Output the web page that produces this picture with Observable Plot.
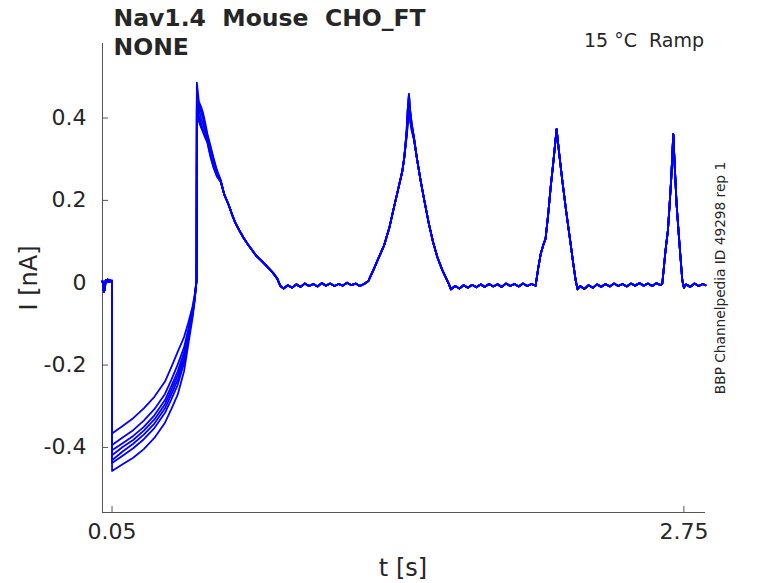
<!DOCTYPE html>
<html><head><meta charset="utf-8">
<script src="https://cdn.jsdelivr.net/npm/d3@7"></script>
<script src="https://cdn.jsdelivr.net/npm/@observablehq/plot@0.6"></script>
<style>
body{margin:0;background:#fff;}
svg{display:block;font-family:"DejaVu Sans",sans-serif;}
</style>
</head><body><div id="chart"></div>
<script>
// ---- axes / ticks ----
const xDomain = [0.005, 2.852];
const yDomain = [-0.558, 0.581];
const xTicks = [0.05, 2.75];
const yTicks = [-0.4, -0.2, 0, 0.2, 0.4];

// ---- holding segment before the ramp protocol ----
const preTime    = [0.005, 0.008, 0.012, 0.016, 0.020, 0.025, 0.030, 0.035, 0.040, 0.045, 0.0495];
const preCurrent = [0.004, -0.006, -0.022, -0.015, 0.006, 0.003, 0.008, 0.002, 0.007, 0.003, 0.005];

// ---- first (slow) ramp, one array per sweep ----
const rampTime = [0.0501, 0.10, 0.15, 0.20, 0.25, 0.30, 0.33, 0.36, 0.39, 0.41, 0.43, 0.44, 0.449];
const sweep1 = [-0.366, -0.348, -0.329, -0.305, -0.277, -0.240, -0.205, -0.168, -0.132, -0.097, -0.058, -0.030, 0.006];
const sweep2 = [-0.394, -0.376, -0.358, -0.335, -0.307, -0.270, -0.236, -0.199, -0.157, -0.113, -0.066, -0.034, 0.006];
const sweep3 = [-0.407, -0.390, -0.372, -0.350, -0.322, -0.285, -0.251, -0.215, -0.169, -0.121, -0.070, -0.037, 0.005];
const sweep4 = [-0.419, -0.399, -0.382, -0.359, -0.332, -0.295, -0.261, -0.225, -0.178, -0.126, -0.073, -0.038, 0.005];
const sweep5 = [-0.431, -0.410, -0.391, -0.369, -0.342, -0.305, -0.271, -0.236, -0.186, -0.131, -0.076, -0.040, 0.005];
const sweep6 = [-0.438, -0.420, -0.402, -0.380, -0.353, -0.316, -0.283, -0.248, -0.195, -0.137, -0.079, -0.041, 0.004];
const sweep7 = [-0.457, -0.441, -0.425, -0.404, -0.377, -0.340, -0.307, -0.272, -0.215, -0.150, -0.085, -0.045, 0.004];

// ---- first peak, one array per sweep ----
const peak1Time = [0.4505, 0.46, 0.47, 0.48, 0.49, 0.50, 0.515, 0.53, 0.545, 0.563];
const peak1s1 = [0.486, 0.440, 0.428, 0.412, 0.388, 0.362, 0.332, 0.302, 0.274, 0.250];
const peak1s2 = [0.452, 0.435, 0.420, 0.405, 0.382, 0.357, 0.328, 0.298, 0.270, 0.248];
const peak1s3 = [0.440, 0.428, 0.415, 0.398, 0.378, 0.352, 0.322, 0.293, 0.268, 0.247];
const peak1s4 = [0.430, 0.405, 0.388, 0.372, 0.360, 0.346, 0.312, 0.284, 0.262, 0.246];
const peak1s5 = [0.425, 0.398, 0.380, 0.368, 0.356, 0.343, 0.308, 0.280, 0.260, 0.246];
const peak1s6 = [0.445, 0.420, 0.400, 0.385, 0.368, 0.350, 0.318, 0.288, 0.265, 0.247];
const peak1s7 = [0.420, 0.392, 0.378, 0.365, 0.352, 0.340, 0.305, 0.278, 0.258, 0.245];

// ---- decay, baseline and rise to the second peak (shared) ----
const tail1Time = [0.58, 0.60, 0.615, 0.63, 0.65, 0.67, 0.69, 0.71, 0.73, 0.75, 0.77, 0.79, 0.81, 0.83, 0.845, 0.86,
  0.88, 0.90, 0.92, 0.94, 0.96, 0.98, 1.00, 1.02, 1.04, 1.06, 1.08, 1.10, 1.12, 1.14, 1.16, 1.18, 1.20, 1.22, 1.24,
  1.26, 1.29, 1.31, 1.334, 1.36, 1.381, 1.40, 1.421, 1.43];
const tail1Current = [0.214, 0.190, 0.168, 0.148, 0.128, 0.110, 0.094, 0.080, 0.066, 0.056, 0.046, 0.035, 0.024, 0.010, -0.008, -0.014,
  -0.006, -0.012, -0.004, -0.010, -0.002, -0.008, -0.003, -0.009, -0.001, -0.007, -0.002, -0.008, -0.003, -0.007, 0.000, -0.006, -0.002, -0.008, -0.003,
  0.004, 0.038, 0.062, 0.090, 0.135, 0.183, 0.225, 0.272, 0.305];

// ---- second peak, three variants ----
const peak2Time = [1.441, 1.446, 1.4519, 1.457, 1.465, 1.4755];
const peak2a = [0.369, 0.420, 0.458, 0.420, 0.385, 0.353];
const peak2b = [0.362, 0.400, 0.435, 0.405, 0.378, 0.350];
const peak2c = [0.355, 0.385, 0.415, 0.395, 0.370, 0.348];

// ---- rest of the protocol (shared) ----
const tail2Time = [1.49, 1.507, 1.525, 1.546, 1.565, 1.586, 1.61, 1.63, 1.641, 1.65, 1.67, 1.69, 1.71, 1.73, 1.75, 1.77,
  1.79, 1.81, 1.83, 1.85, 1.87, 1.89, 1.91, 1.93, 1.95, 1.97, 1.99, 2.01, 2.03, 2.05,
  2.062, 2.074, 2.085, 2.097, 2.11, 2.121, 2.135, 2.149, 2.162, 2.176, 2.195, 2.215, 2.228, 2.239, 2.248,
  2.26, 2.28, 2.30, 2.32, 2.34, 2.36, 2.38, 2.40, 2.42, 2.44, 2.46, 2.48, 2.50, 2.52, 2.54, 2.56, 2.58, 2.60, 2.62, 2.64, 2.648,
  2.656, 2.664, 2.6745, 2.682, 2.6905, 2.6999, 2.7075, 2.7155, 2.729, 2.7424, 2.75,
  2.76, 2.78, 2.80, 2.82, 2.84, 2.852];
const tail2Current = [0.300, 0.248, 0.198, 0.143, 0.100, 0.062, 0.030, 0.008, -0.004, -0.016, -0.008, -0.014, -0.006, -0.012, -0.005, -0.011,
  -0.004, -0.010, -0.003, -0.009, -0.004, -0.010, -0.002, -0.008, -0.003, -0.009, -0.002, -0.008, -0.003, -0.007,
  0.035, 0.070, 0.090, 0.107, 0.170, 0.232, 0.300, 0.373, 0.310, 0.248, 0.170, 0.095, 0.045, 0.006, -0.016,
  -0.008, -0.015, -0.006, -0.012, -0.004, -0.010, -0.003, -0.009, -0.002, -0.008, -0.003, -0.009, -0.002, -0.007, -0.001, -0.007, -0.002, -0.008, -0.001, -0.006, -0.002,
  0.040, 0.082, 0.127, 0.185, 0.256, 0.361, 0.275, 0.190, 0.095, 0.006, -0.012,
  -0.004, -0.010, -0.002, -0.008, -0.003, -0.006];

// ---- assemble rows ----
const ramps = [sweep1, sweep2, sweep3, sweep4, sweep5, sweep6, sweep7];
const peak1Sweeps = [peak1s1, peak1s2, peak1s3, peak1s4, peak1s5, peak1s6, peak1s7];
const peak2Sweeps = [peak2a, peak2b, peak2c];
const rows = [];
ramps.forEach((ramp, i) => {
  const push = (ts, vs) => ts.forEach((t, j) => rows.push({t, I: vs[j], sweep: i}));
  push(preTime, preCurrent);
  push(rampTime, ramp);
  push(peak1Time, peak1Sweeps[i]);
  push(tail1Time, tail1Current);
  push(peak2Time, peak2Sweeps[i % 3]);
  push(tail2Time, tail2Current);
});

const W = 778, H = 583, mL = 102, mR = 73, mT = 43, mB = 71;
const axisColor = "#555555", textColor = "#262626";

const chart = Plot.plot({
  width: W, height: H,
  marginLeft: mL, marginRight: mR, marginTop: mT, marginBottom: mB,
  style: {fontFamily: "DejaVu Sans, sans-serif", background: "#fff", color: textColor},
  x: {domain: xDomain},
  y: {domain: yDomain},
  marks: [
    Plot.axisX({ticks: xTicks, tickSize: 0, tickPadding: 11, fontSize: 22, label: null, tickFormat: d => String(d), fill: textColor}),
    Plot.axisY({ticks: yTicks, tickSize: 0, tickPadding: 16, fontSize: 22, label: null, tickFormat: d => String(d), fill: textColor}),
    Plot.ruleX(xTicks, {stroke: axisColor, insetTop: H - mT - mB - 6}),
    Plot.ruleY(yTicks, {stroke: axisColor, insetRight: W - mL - mR - 6}),
    Plot.ruleX([xDomain[0]], {stroke: axisColor}),
    Plot.ruleY([yDomain[0]], {stroke: axisColor}),
    Plot.line(rows, {x: "t", y: "I", z: "sweep", stroke: "#0000ff", strokeWidth: 1.8, strokeLinejoin: "round"})
  ]
});
document.getElementById("chart").appendChild(chart);

const svg = d3.select(chart);
const addText = (x, y, txt, o = {}) => {
  const t = svg.append("text").attr("x", x).attr("y", y).text(txt)
    .attr("fill", textColor).attr("font-size", o.size || 20)
    .attr("font-weight", o.weight || "normal")
    .attr("text-anchor", o.anchor || "start")
    .style("white-space", "pre");
  if (o.rotate) t.attr("transform", `rotate(${o.rotate},${x},${y})`);
  return t;
};
addText(113.5, 26, "Nav1.4  Mouse  CHO_FT", {size: 23.5, weight: "bold"});
addText(113.5, 55, "NONE", {size: 23.5, weight: "bold"});
addText(704, 47, "15 °C  Ramp", {size: 19, anchor: "end"});
addText(724.5, 278, "BBP Channelpedia ID 49298 rep 1", {size: 13.7, anchor: "middle", rotate: -90});
addText(403, 576, "t [s]", {size: 24, anchor: "middle"});
addText(37, 278, "I [nA]", {size: 24, anchor: "middle", rotate: -90});
</script></body></html>
